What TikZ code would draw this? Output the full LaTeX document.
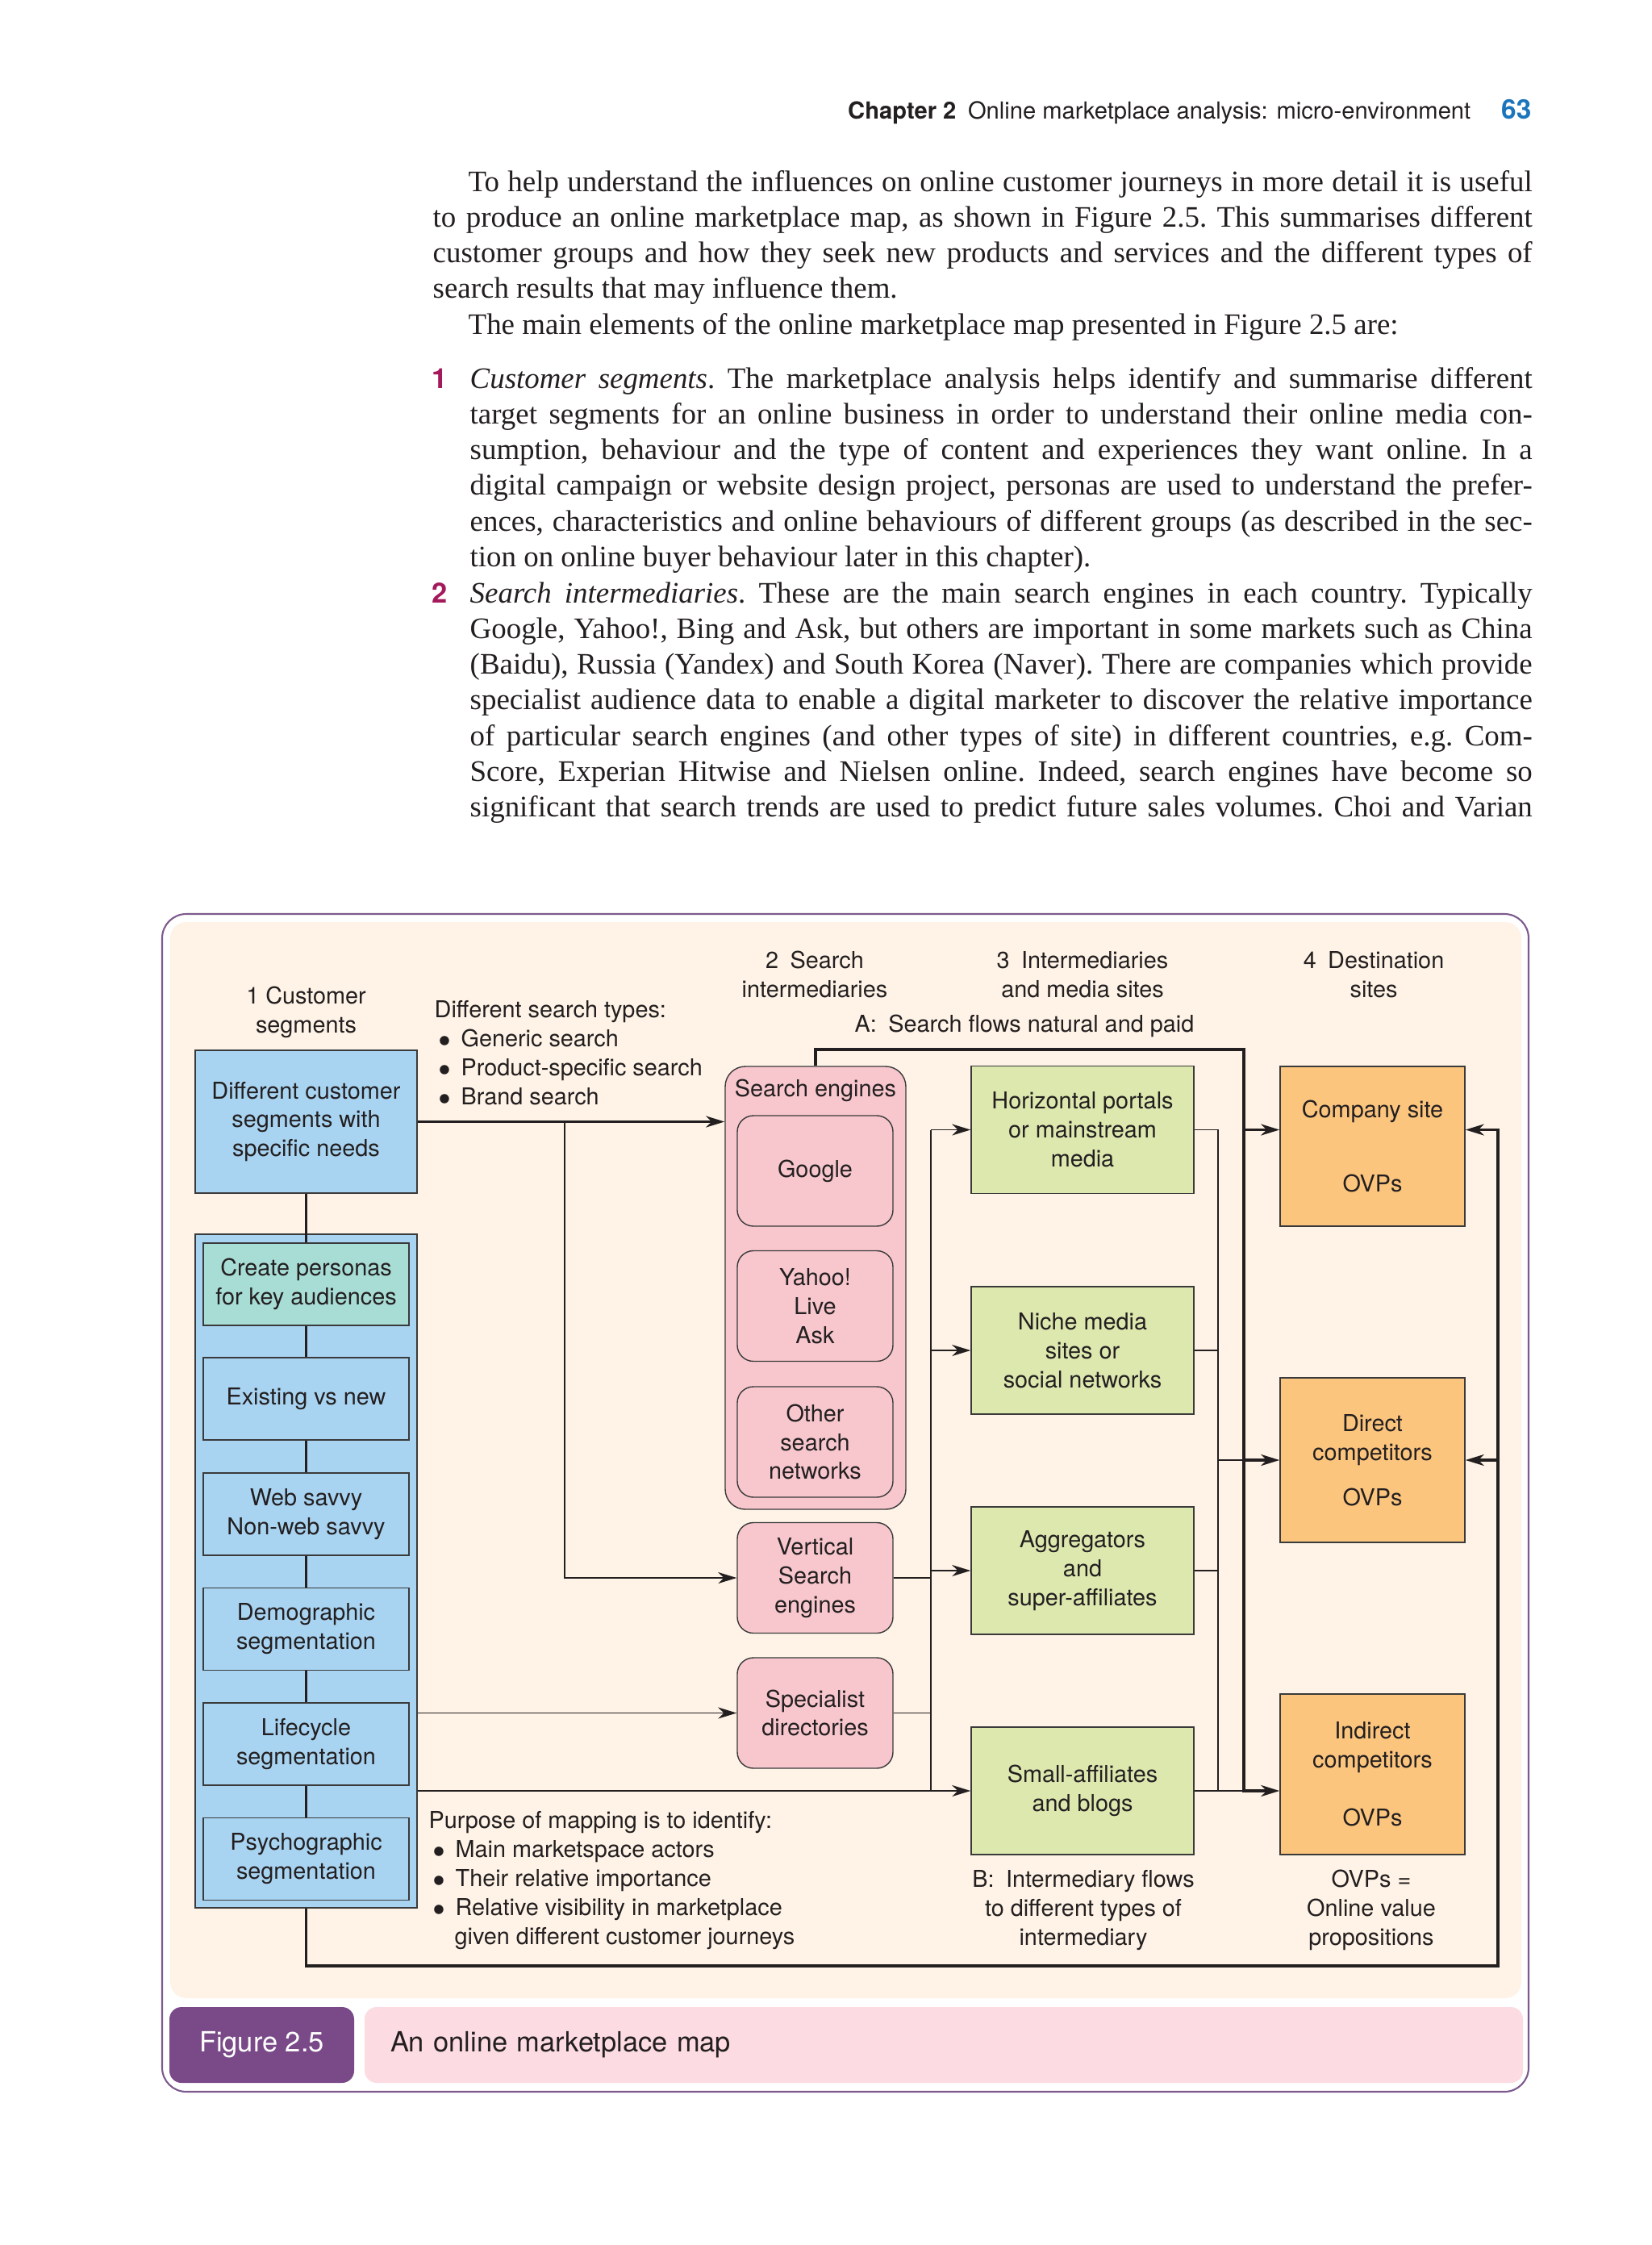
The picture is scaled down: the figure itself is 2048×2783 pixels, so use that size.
\documentclass[tikz,border=0pt]{standalone}
\usepackage{fontspec}
\setmainfont{Liberation Serif}
\setsansfont{TeX Gyre Heros}
\usetikzlibrary{arrows.meta,calc}

\definecolor{ink}{HTML}{231F20}
\definecolor{boxline}{HTML}{3A3A3A}
\definecolor{folioblue}{HTML}{1C75BC}
\definecolor{listred}{HTML}{A3195B}
\definecolor{framepurple}{HTML}{7D5A8E}
\definecolor{figpurple}{HTML}{7A4A88}
\definecolor{capink}{HTML}{FCDCE2}
\definecolor{cream}{HTML}{FEF3E6}
\definecolor{segblue}{HTML}{A8D4F2}
\definecolor{personateal}{HTML}{A8DDD6}
\definecolor{searchpink}{HTML}{F7C7CD}
\definecolor{sitegreen}{HTML}{DDE8AF}
\definecolor{destorange}{HTML}{FCC57E}

\newcommand{\pagetextfont}{\rmfamily\fontsize{10.5}{12.6}\selectfont\frenchspacing\hyphenpenalty=10000\tolerance=9999}
\newcommand{\boxtextfont}{\sffamily\fontsize{8.2}{10.2}\selectfont}
\newcommand{\runheadfont}{\sffamily\fontsize{8.3}{10}\selectfont}
\newcommand{\folionumfont}{\sffamily\bfseries\fontsize{9.5}{11}\selectfont}
\newcommand{\itemnumfont}{\sffamily\bfseries\fontsize{9.8}{11}\selectfont}
\newcommand{\figcapfont}{\sffamily\fontsize{9.8}{11}\selectfont}
\newcommand{\listdot}{\hspace*{0.5mm}$\bullet$\hspace{1.3mm}}

\tikzset{
  para/.style={anchor=base west, inner sep=0pt, align=justify, font=\pagetextfont, text=ink},
  listno/.style={anchor=base west, inner sep=0pt, font=\itemnumfont, text=listred},
  heading/.style={inner sep=0pt, align=center, font=\boxtextfont, text=ink},
  cellbox/.style={draw=boxline, line width=0.4pt, inner sep=0pt, align=center, font=\boxtextfont, text=ink},
  segbox/.style={cellbox, fill=segblue, minimum width=25.5mm, minimum height=10.2mm},
  searchbox/.style={cellbox, fill=searchpink, rounded corners=2mm, minimum width=19.3mm, minimum height=13.7mm},
  sitebox/.style={cellbox, fill=sitegreen, minimum width=27.6mm, minimum height=15.8mm},
  destbox/.style={cellbox, fill=destorange, minimum width=22.9mm},
  bus/.style={draw=ink, line width=0.55pt},
  trunk/.style={draw=ink, line width=0.95pt},
  flow/.style={-{Stealth[length=2.3mm,width=1.4mm,inset=0.7mm]}},
}

\begin{document}
\begin{tikzpicture}[x=0.1mm, y=-0.1mm]
  \useasboundingbox (0,0) rectangle (2048,2783);
  \fill[white] (0,0) rectangle (2048,2783);

  % running head
  \node[anchor=base east, inner sep=0pt, font=\runheadfont, text=ink] (head) at (1824,147)
    {\textbf{Chapter 2}\enspace Online marketplace analysis: micro-environment};
  \node[anchor=base east, inner sep=0pt, font=\folionumfont, text=folioblue] (folio) at (1899,147) {63};

  % body text
  \node[para, text width=136.3mm] (intro) at (536,237)
    {\hspace*{4.4mm}To help understand the influences on online customer journeys in more detail it is useful\linebreak
     to produce an online marketplace map, as shown in Figure 2.5. This summarises different\linebreak
     customer groups and how they seek new products and services and the different types of\linebreak
     search results that may influence them.\par
     \hspace*{4.4mm}The main elements of the online marketplace map presented in Figure 2.5 are:};
  \node[listno] (no1) at (535,481) {1};
  \node[para, text width=131.7mm] (item1) at (582,481)
    {\textit{Customer segments}. The marketplace analysis helps identify and summarise different\linebreak
     target segments for an online business in order to understand their online media con-\linebreak
     sumption, behaviour and the type of content and experiences they want online. In a\linebreak
     digital campaign or website design project, personas are used to understand the prefer-\linebreak
     ences, characteristics and online behaviours of different groups (as described in the sec-\linebreak
     tion on online buyer behaviour later in this chapter).};
  \node[listno] (no2) at (535,747) {2};
  \node[para, text width=131.7mm] (item2) at (582,747)
    {\parfillskip=0pt\textit{Search intermediaries}. These are the main search engines in each country. Typically\linebreak
     Google, Yahoo!, Bing and Ask, but others are important in some markets such as China\linebreak
     (Baidu), Russia (Yandex) and South Korea (Naver). There are companies which provide\linebreak
     specialist audience data to enable a digital marketer to discover the relative importance\linebreak
     of particular search engines (and other types of site) in different countries, e.g. Com-\linebreak
     Score, Experian Hitwise and Nielsen online. Indeed, search engines have become so\linebreak
     significant that search trends are used to predict future sales volumes. Choi and Varian\parfillskip=0pt\par};

  % figure frame and caption
  \draw[framepurple, line width=0.6pt, rounded corners=3mm] (201,1133) rectangle (1895,2593);
  \fill[cream, rounded corners=2mm] (211,1143) rectangle (1886,2477);
  \node[fill=figpurple, rounded corners=1.5mm, minimum width=22.9mm, minimum height=9.4mm,
        inner sep=0pt, font=\figcapfont, text=white] (figno) at (324.5,2535) {Figure 2.5};
  \node[fill=capink, rounded corners=1.5mm, minimum height=9.4mm, text width=137.2mm, inner xsep=3.2mm,
        inner ysep=0pt, align=left, font=\figcapfont, text=ink] (caption) at (1170,2535) {An online marketplace map};

  % column headings
  \node[heading] (h1) at (379.5,1255) {1 Customer\\segments};
  \node[heading] (h2) at (1010,1208) {2\enspace Search\\intermediaries};
  \node[heading] (h3) at (1342,1208) {3\enspace Intermediaries\\and media sites};
  \node[heading] (h4) at (1703,1208) {4\enspace Destination\\sites};
  \node[heading] (flowa) at (1270,1272) {A:\enspace Search flows natural and paid};
  \node[heading] (flowb) at (1343,2368) {B:\enspace Intermediary flows\\to different types of\\intermediary};
  \node[heading] (ovps) at (1700,2368) {OVPs =\\Online value\\propositions};
  \node[heading, anchor=west, align=left] (types) at (538,1305)
    {Different search types:\\
     \listdot Generic search\\
     \listdot Product-specific search\\
     \listdot Brand search};
  \node[heading, anchor=west, align=left] (purpose) at (531,2331)
    {Purpose of mapping is to identify:\\
     \listdot Main marketspace actors\\
     \listdot Their relative importance\\
     \listdot Relative visibility in marketplace\\
     \hspace*{3.2mm}given different customer journeys};

  % 1 customer segments
  \node[cellbox, fill=segblue, minimum width=27.5mm, minimum height=17.7mm] (diff) at (379.5,1390.5)
    {Different customer\\segments with\\specific needs};
  \node[cellbox, fill=segblue, minimum width=27.5mm, minimum height=83.5mm] (segs) at (379.5,1947.5) {};
  \node[segbox, fill=personateal] (pers) at (379.5,1592) {Create personas\\for key audiences};
  \node[segbox] (exist) at (379.5,1734) {Existing vs new};
  \node[segbox] (savvy) at (379.5,1877) {Web savvy\\Non-web savvy};
  \node[segbox] (demo) at (379.5,2019.5) {Demographic\\segmentation};
  \node[segbox] (life) at (379.5,2162) {Lifecycle\\segmentation};
  \node[segbox] (psycho) at (379.5,2304.5) {Psychographic\\segmentation};

  % 2 search intermediaries
  \node[cellbox, fill=searchpink, rounded corners=2.5mm, minimum width=22.4mm, minimum height=54.9mm] (engines) at (1011,1596.5) {};
  \node[heading] (enginestitle) at (1011,1352) {Search engines};
  \node[searchbox] (google) at (1010.5,1451.5) {Google};
  \node[searchbox] (yahoo) at (1010.5,1619) {Yahoo!\\Live\\Ask};
  \node[searchbox] (other) at (1010.5,1787.5) {Other\\search\\networks};
  \node[searchbox] (vert) at (1010.5,1956) {Vertical\\Search\\engines};
  \node[searchbox] (spec) at (1010.5,2123.5) {Specialist\\directories};

  % 3 intermediaries and media sites
  \node[sitebox] (hor) at (1342,1400.5) {Horizontal portals\\or mainstream\\media};
  \node[sitebox] (niche) at (1342,1674) {Niche media\\sites or\\social networks};
  \node[sitebox] (aggr) at (1342,1947) {Aggregators\\and\\super-affiliates};
  \node[sitebox] (small) at (1342,2220) {Small-affiliates\\and blogs};

  % 4 destination sites
  \node[destbox, minimum height=19.8mm] (comp) at (1701.5,1421) {Company site\\[5.6mm]OVPs};
  \node[destbox, minimum height=20.4mm] (direct) at (1701.5,1810) {Direct\\competitors\\[2mm]OVPs};
  \node[destbox, minimum height=19.9mm] (indir) at (1701.5,2199.5) {Indirect\\competitors\\[3.6mm]OVPs};

  % bus positions
  \coordinate (fork) at (700,0);
  \coordinate (busB) at (1154,0);
  \coordinate (busC) at (1510,0);
  \coordinate (busD) at (1542,1301);
  \coordinate (busE) at (1857,2437);

  % segment chain
  \draw[trunk] (diff.south) -- (pers.north);
  \draw[trunk] (pers.south) -- (exist.north);
  \draw[trunk] (exist.south) -- (savvy.north);
  \draw[trunk] (savvy.south) -- (demo.north);
  \draw[trunk] (demo.south) -- (life.north);
  \draw[trunk] (life.south) -- (psycho.north);

  % customers to search
  \draw[trunk, flow] (diff.east) -- (diff.east -| engines.west);
  \draw[bus, flow] (diff.east -| fork) |- (vert.west);
  \draw[bus, flow] (spec.west -| segs.east) -- (spec.west);
  \draw[bus, flow] (small.west -| segs.east) -- (small.west);

  % search to intermediaries
  \draw[bus] (hor.west -| busB) -- (small.west -| busB);
  \draw[bus, flow] (hor.west -| busB) -- (hor.west);
  \draw[bus, flow] (niche.west -| busB) -- (niche.west);
  \draw[bus, flow] (aggr.west -| busB) -- (aggr.west);
  \draw[bus] (vert.east) -- (vert.east -| busB);
  \draw[bus] (spec.east) -- (spec.east -| busB);

  % intermediaries to destinations
  \draw[bus] (hor.east) -| (small.east -| busC);
  \draw[bus] (niche.east) -- (niche.east -| busC);
  \draw[bus] (aggr.east) -- (aggr.east -| busC);
  \draw[bus] (small.east) -- (small.east -| busD);
  \draw[bus] (direct.west -| busC) -- (direct.west -| busD);
  \draw[trunk, flow] (engines.north) |- (busD) |- (small.east -| indir.west);
  \draw[trunk, flow] (hor.east -| busD) -- (hor.east -| comp.west);
  \draw[trunk, flow] (direct.west -| busD) -- (direct.west);

  % return loop
  \draw[trunk, flow] (segs.south) |- (busE) |- (hor.east -| comp.east);
  \draw[trunk, flow] (direct.east -| busE) -- (direct.east);
\end{tikzpicture}
\end{document}
